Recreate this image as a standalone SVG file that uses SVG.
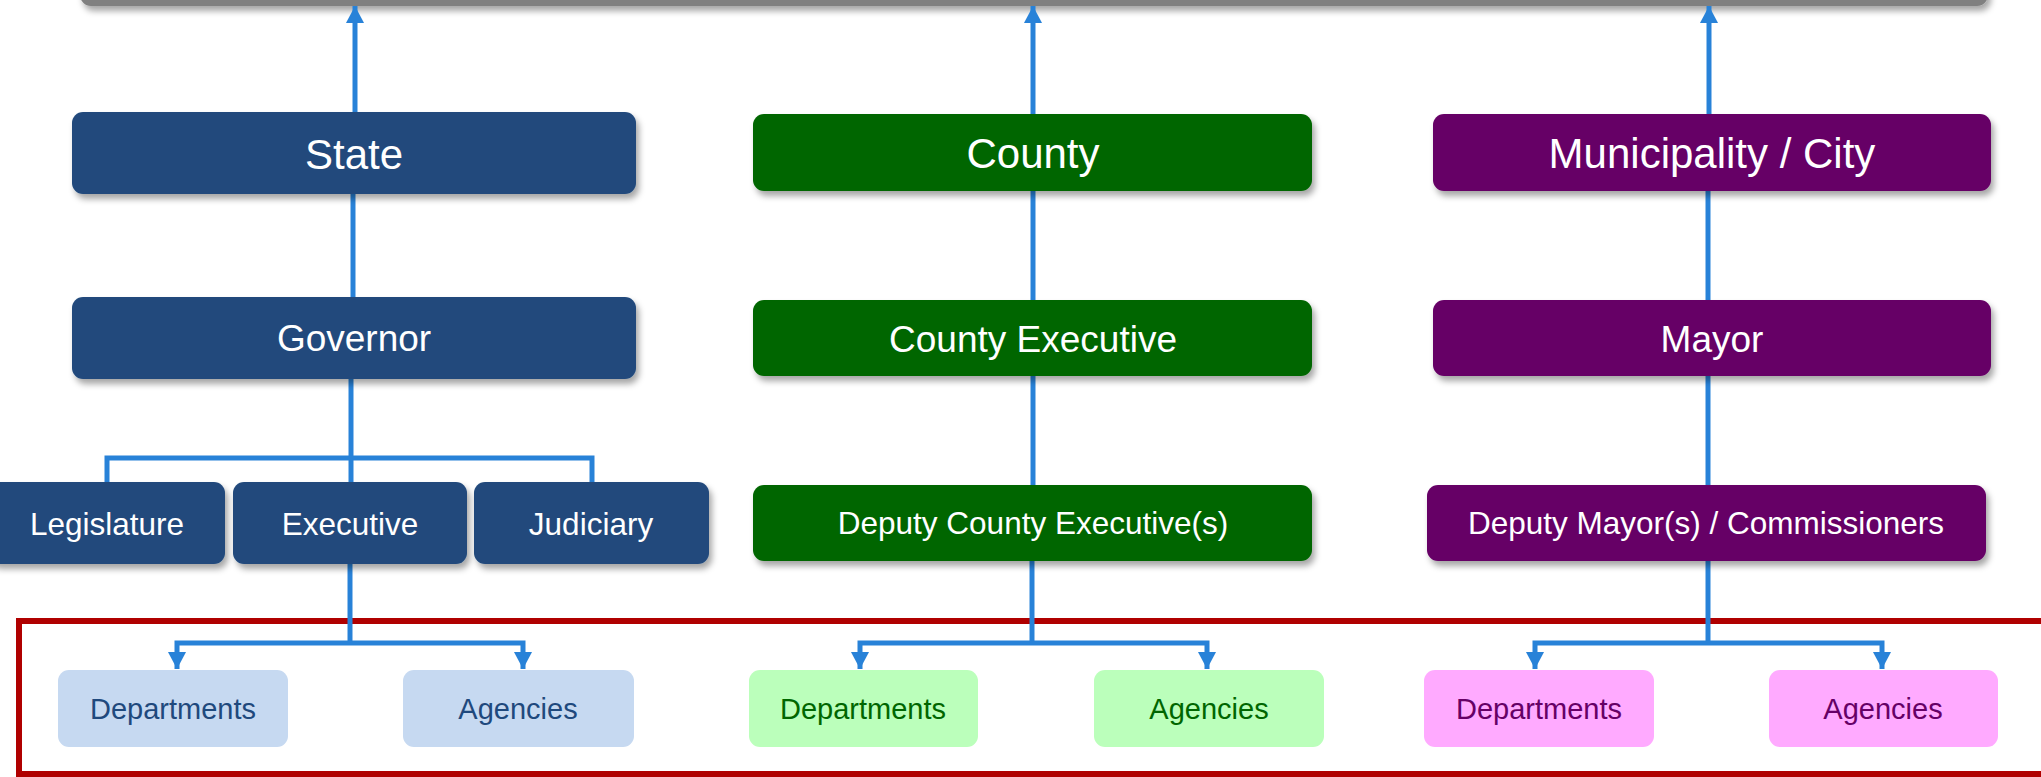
<svg xmlns="http://www.w3.org/2000/svg" width="2041" height="777" viewBox="0 0 2041 777">
<defs>
<filter id="sh" x="-10%" y="-20%" width="120%" height="160%">
<feDropShadow dx="3" dy="5" stdDeviation="3" flood-color="#000" flood-opacity="0.35"/>
</filter>
<marker id="ah" markerUnits="userSpaceOnUse" markerWidth="18" markerHeight="18" viewBox="0 0 16 17" refX="16" refY="8.5" orient="auto">
<path d="M0,0 L16,8.5 L0,17 Z" fill="#2882D8"/>
</marker>
<style>
.t{font-family:"Liberation Sans",Arial,sans-serif;text-anchor:middle;}
.w{fill:#fff;}
.l1{font-size:42px;}
.l2{font-size:37px;}
.l3{font-size:31.5px;}
.l4{font-size:29px;}
.st{fill:#214A7C;}
.co{fill:#006600;}
.mu{fill:#660066;}
.stL{fill:#C6D9F1;}
.coL{fill:#BBFFBB;}
.muL{fill:#FFAAFF;}
.stT{fill:#1F497D;}
.coT{fill:#006600;}
.muT{fill:#660066;}
.c{stroke:#2882D8;stroke-width:5;fill:none;}
.a{marker-end:url(#ah);}
</style>
</defs>
<rect width="2041" height="777" fill="#fff"/>

<g id="top-bar">
<rect x="80" y="-40" width="1908" height="46" rx="11" fill="#808080" filter="url(#sh)"/>
</g>

<g id="frame">
<rect x="19" y="621" width="2100" height="153" fill="none" stroke="#B00000" stroke-width="6"/>
</g>

<g id="connectors">
<line class="c a" x1="355" y1="112" x2="355" y2="6"/>
<line class="c a" x1="1033" y1="114" x2="1033" y2="6"/>
<line class="c a" x1="1709" y1="114" x2="1709" y2="6"/>
<line class="c" x1="353" y1="194" x2="353" y2="297"/>
<line class="c" x1="1033" y1="191" x2="1033" y2="300"/>
<line class="c" x1="1708" y1="191" x2="1708" y2="300"/>
<line class="c" x1="351" y1="379" x2="351" y2="482"/>
<line class="c" x1="1033" y1="376" x2="1033" y2="485"/>
<line class="c" x1="1708" y1="376" x2="1708" y2="485"/>
<path class="c" d="M107,484 V458 H592 V484"/>
<line class="c" x1="350" y1="564" x2="350" y2="643"/>
<line class="c" x1="1032" y1="561" x2="1032" y2="643"/>
<line class="c" x1="1708" y1="561" x2="1708" y2="643"/>
<path class="c a" d="M350,643 H177 V669"/>
<path class="c a" d="M350,643 H523 V669"/>
<path class="c a" d="M1032,643 H860 V669"/>
<path class="c a" d="M1032,643 H1207 V669"/>
<path class="c a" d="M1708,643 H1535 V669"/>
<path class="c a" d="M1708,643 H1882 V669"/>
</g>

<g id="state">
<rect class="st" x="72" y="112" width="564" height="82" rx="11" filter="url(#sh)"/>
<text class="t w l1" x="354" y="169">State</text>
</g>
<g id="governor">
<rect class="st" x="72" y="297" width="564" height="82" rx="11" filter="url(#sh)"/>
<text class="t w l2" x="354" y="351">Governor</text>
</g>
<g id="legislature">
<rect class="st" x="-12" y="482" width="237" height="82" rx="11" filter="url(#sh)"/>
<text class="t w l3" x="107" y="535">Legislature</text>
</g>
<g id="executive">
<rect class="st" x="233" y="482" width="234" height="82" rx="11" filter="url(#sh)"/>
<text class="t w l3" x="350" y="535">Executive</text>
</g>
<g id="judiciary">
<rect class="st" x="474" y="482" width="235" height="82" rx="11" filter="url(#sh)"/>
<text class="t w l3" x="591" y="535">Judiciary</text>
</g>
<g id="state-departments">
<rect class="stL" x="58" y="670" width="230" height="77" rx="11"/>
<text class="t stT l4" x="173" y="719">Departments</text>
</g>
<g id="state-agencies">
<rect class="stL" x="403" y="670" width="231" height="77" rx="11"/>
<text class="t stT l4" x="518" y="719">Agencies</text>
</g>

<g id="county">
<rect class="co" x="753" y="114" width="559" height="77" rx="11" filter="url(#sh)"/>
<text class="t w l1" x="1033" y="168">County</text>
</g>
<g id="county-executive">
<rect class="co" x="753" y="300" width="559" height="76" rx="11" filter="url(#sh)"/>
<text class="t w l2" x="1033" y="352">County Executive</text>
</g>
<g id="deputy-county-executive">
<rect class="co" x="753" y="485" width="559" height="76" rx="11" filter="url(#sh)"/>
<text class="t w l3" x="1033" y="534">Deputy County Executive(s)</text>
</g>
<g id="county-departments">
<rect class="coL" x="749" y="670" width="229" height="77" rx="11"/>
<text class="t coT l4" x="863" y="719">Departments</text>
</g>
<g id="county-agencies">
<rect class="coL" x="1094" y="670" width="230" height="77" rx="11"/>
<text class="t coT l4" x="1209" y="719">Agencies</text>
</g>

<g id="municipality">
<rect class="mu" x="1433" y="114" width="558" height="77" rx="11" filter="url(#sh)"/>
<text class="t w l1" x="1712" y="168">Municipality / City</text>
</g>
<g id="mayor">
<rect class="mu" x="1433" y="300" width="558" height="76" rx="11" filter="url(#sh)"/>
<text class="t w l2" x="1712" y="352">Mayor</text>
</g>
<g id="deputy-mayor">
<rect class="mu" x="1427" y="485" width="559" height="76" rx="11" filter="url(#sh)"/>
<text class="t w l3" x="1706" y="534">Deputy Mayor(s) / Commissioners</text>
</g>
<g id="municipal-departments">
<rect class="muL" x="1424" y="670" width="230" height="77" rx="11"/>
<text class="t muT l4" x="1539" y="719">Departments</text>
</g>
<g id="municipal-agencies">
<rect class="muL" x="1769" y="670" width="229" height="77" rx="11"/>
<text class="t muT l4" x="1883" y="719">Agencies</text>
</g>
</svg>
